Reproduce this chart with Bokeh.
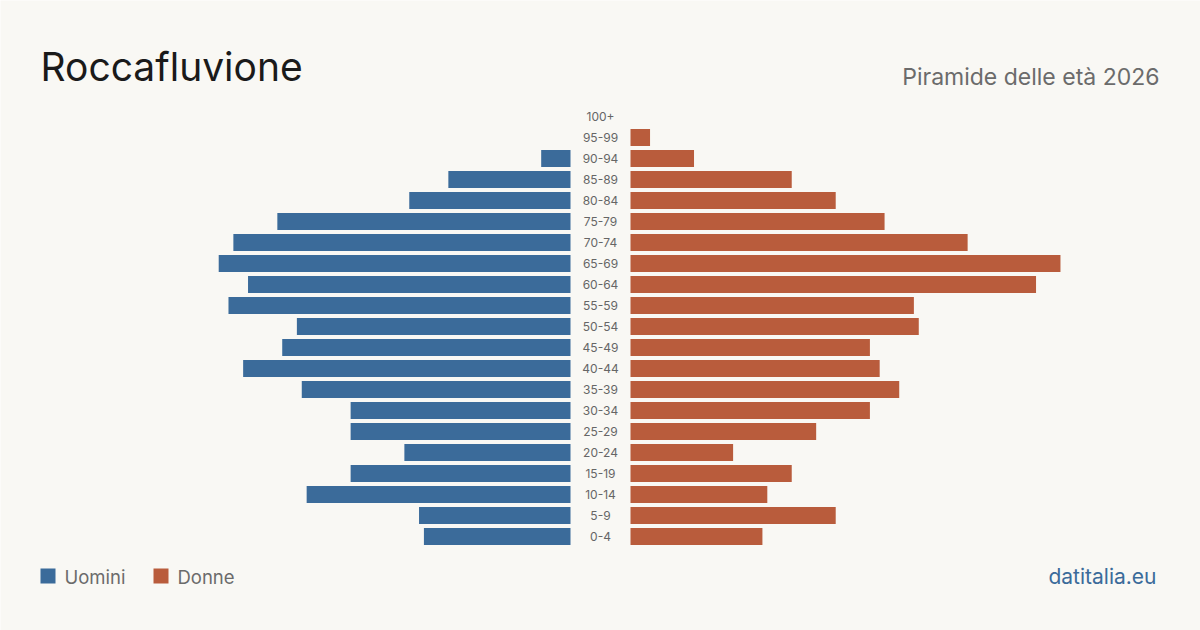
from bokeh.plotting import figure
from bokeh.models import Range1d, Label, ColumnDataSource
from bokeh.core.properties import value
from bokeh.embed import file_html
from bokeh.resources import INLINE

# Age classes, youngest first
ages = ["0-4", "5-9", "10-14", "15-19", "20-24", "25-29", "30-34", "35-39",
        "40-44", "45-49", "50-54", "55-59", "60-64", "65-69", "70-74",
        "75-79", "80-84", "85-89", "90-94", "95-99", "100+"]
men = [30, 31, 54, 45, 34, 45, 45, 55, 67, 59, 56, 70, 66, 72, 69,
       60, 33, 25, 6, 0, 0]
women = [27, 42, 28, 33, 21, 38, 49, 55, 51, 49, 59, 58, 83, 88, 69,
         52, 42, 33, 13, 4, 0]

BG = "#f9f8f4"
BLUE = "#3b6b9a"
RED = "#b95c3c"
FONT = "Inter"

W, H = 1200, 630
PX = 4.886          # pixels per person
GAP = 30 / PX       # half-width of the central label column
ROW = 21            # row pitch in pixels
Y0 = 536            # pixel row of the youngest class

xr = Range1d(-W / 2 / PX, W / 2 / PX)
yr = Range1d(-(H - Y0) / ROW, Y0 / ROW)

p = figure(width=W, height=H, x_range=xr, y_range=yr,
           output_backend="svg", toolbar_location=None,
           min_border=0, x_axis_location=None, y_axis_location=None)
p.background_fill_color = BG
p.border_fill_color = BG
p.outline_line_color = None
p.xgrid.visible = False
p.ygrid.visible = False

idx = list(range(len(ages)))
src = ColumnDataSource(dict(
    y=idx, age=ages,
    m_left=[-GAP - v for v in men], m_right=[-GAP] * len(men),
    w_left=[GAP] * len(women), w_right=[GAP + v for v in women],
))

p.hbar(y="y", left="m_left", right="m_right", height=17 / ROW,
       source=src, fill_color=BLUE, line_color=None)
p.hbar(y="y", left="w_left", right="w_right", height=17 / ROW,
       source=src, fill_color=RED, line_color=None)

p.text(x=0, y="y", text="age", source=src, text_align="center",
       text_baseline="middle", text_font=value(FONT),
       text_font_size="12px", text_color="#666666")

def screen_label(text, x, y, size, color, align="left"):
    # y is the vertical centre of the text, measured from the top
    p.add_layout(Label(x=x, y=H - y, x_units="screen", y_units="screen",
                       text=text, text_font=FONT, text_font_size=size,
                       text_color=color, text_align=align,
                       text_baseline="middle"))

screen_label("Roccafluvione", 40, 66, "39px", "#1a1a1a")
screen_label("Piramide delle età 2026", 1159, 76, "23px", "#6b6b6b", "right")
screen_label("datitalia.eu", 1156, 576, "21px", BLUE, "right")

# Legend
p.rect(x=[(40 + 7.5 - W / 2) / PX, (153 + 7.5 - W / 2) / PX],
       y=[(Y0 - 575.5) / ROW] * 2, width=15 / PX, height=15 / ROW,
       fill_color=[BLUE, RED], line_color=None)
screen_label("Uomini", 64, 576, "18.5px", "#6b6b6b")
screen_label("Donne", 177, 576, "18.5px", "#6b6b6b")

open("out.html", "w").write(file_html(p, INLINE))
